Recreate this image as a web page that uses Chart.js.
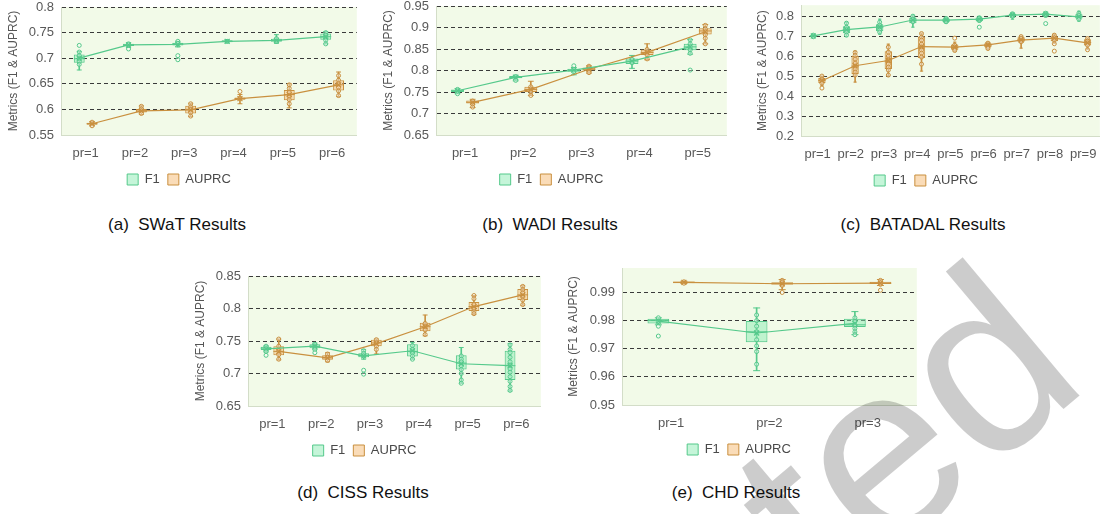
<!DOCTYPE html>
<html>
<head>
<meta charset="utf-8">
<script src="https://cdn.jsdelivr.net/npm/chart.js@4.4.0/dist/chart.umd.min.js"></script>
<style>
body { margin: 0; background: #fff; width: 1105px; height: 514px; overflow: hidden; position: relative; font-family: 'Liberation Sans', Arial, sans-serif; }
.box { position: absolute; }
.cap { position: absolute; font-size: 17px; line-height: 22px; color: #111; transform: translateX(-50%); white-space: nowrap; }
#mark { position: absolute; left: 0; top: 0; pointer-events: none; }
</style>
</head>
<body>
<div class="box" style="left:0;top:0;width:362px;height:196px"><canvas id="chartSwat"></canvas></div>
<div class="box" style="left:375px;top:0;width:357px;height:196px"><canvas id="chartWadi"></canvas></div>
<div class="box" style="left:749px;top:0;width:356px;height:197px"><canvas id="chartBatadal"></canvas></div>
<div class="box" style="left:187px;top:266px;width:359px;height:201px"><canvas id="chartCiss"></canvas></div>
<div class="box" style="left:560px;top:262px;width:362px;height:204px"><canvas id="chartChd"></canvas></div>

<div class="cap" style="left:177px;top:214px">(a)&nbsp; SWaT Results</div>
<div class="cap" style="left:550px;top:214px">(b)&nbsp; WADI Results</div>
<div class="cap" style="left:923px;top:214px">(c)&nbsp; BATADAL Results</div>
<div class="cap" style="left:363px;top:482px">(d)&nbsp; CISS Results</div>
<div class="cap" style="left:736px;top:482px">(e)&nbsp; CHD Results</div>

<svg id="mark" width="1105" height="514">
  <text x="1092" y="385" transform="rotate(-40 1092 385)" text-anchor="end" font-family="Liberation Sans, Arial, sans-serif" font-size="250" fill="rgba(0,0,0,0.2)">ted</text>
</svg>

<script>
// box = [low whisker, q1, median, q3, high whisker]
var swatLabels = ['pr=1', 'pr=2', 'pr=3', 'pr=4', 'pr=5', 'pr=6'];
var swatTicks = [0.55, 0.6, 0.65, 0.7, 0.75, 0.8];
var swatF1Box = [[0.677, 0.691, 0.699, 0.707, 0.713], [0.721, 0.724, 0.726, 0.728, 0.730], [0.722, 0.725, 0.728, 0.730, 0.733],
    [0.730, 0.731, 0.733, 0.735, 0.736], [0.729, 0.732, 0.735, 0.738, 0.746], [0.728, 0.736, 0.742, 0.748, 0.752]];
var swatF1Mean = [0.700, 0.726, 0.727, 0.733, 0.735, 0.742];
var swatF1Pts = [[0.725, 0.712, 0.705, 0.699, 0.693, 0.688], [0.718, 0.726, 0.728], [0.733, 0.729, 0.705, 0.697],
    [0.733], [0.738, 0.733], [0.750, 0.745, 0.740, 0.735, 0.728]];
var swatAuBox = [[0.568, 0.570, 0.572, 0.574, 0.576], [0.590, 0.594, 0.597, 0.601, 0.607], [0.586, 0.592, 0.600, 0.607, 0.612],
    [0.611, 0.619, 0.621, 0.623, 0.629], [0.603, 0.618, 0.629, 0.638, 0.650], [0.625, 0.637, 0.648, 0.657, 0.673]];
var swatAuMean = [0.572, 0.597, 0.599, 0.621, 0.629, 0.648];
var swatAuPts = [[0.568, 0.575], [0.606, 0.601, 0.597, 0.592], [0.611, 0.605, 0.600, 0.594, 0.587], [0.635, 0.622],
    [0.648, 0.641, 0.633, 0.626, 0.619, 0.611], [0.666, 0.657, 0.650, 0.643, 0.636, 0.627]];

var wadiLabels = ['pr=1', 'pr=2', 'pr=3', 'pr=4', 'pr=5'];
var wadiTicks = [0.65, 0.7, 0.75, 0.8, 0.85, 0.9, 0.95];
var wadiF1Box = [[0.746, 0.750, 0.753, 0.756, 0.758], [0.776, 0.782, 0.784, 0.787, 0.789], [0.790, 0.797, 0.801, 0.804, 0.807],
    [0.805, 0.815, 0.822, 0.828, 0.835], [0.838, 0.847, 0.855, 0.862, 0.872]];
var wadiF1Mean = [0.753, 0.784, 0.801, 0.822, 0.855];
var wadiF1Pts = [[0.746, 0.752, 0.756], [0.777, 0.786], [0.811, 0.803, 0.797], [0.826, 0.818],
    [0.871, 0.862, 0.855, 0.848, 0.840, 0.801]];
var wadiAuBox = [[0.714, 0.723, 0.726, 0.730, 0.733], [0.742, 0.750, 0.756, 0.762, 0.775], [0.794, 0.800, 0.803, 0.807, 0.811],
    [0.825, 0.836, 0.842, 0.849, 0.862], [0.862, 0.884, 0.892, 0.898, 0.907]];
var wadiAuMean = [0.726, 0.756, 0.803, 0.842, 0.890];
var wadiAuPts = [[0.729, 0.722, 0.715], [0.762, 0.757, 0.750, 0.742], [0.810, 0.806, 0.799, 0.795],
    [0.849, 0.843, 0.836, 0.827], [0.905, 0.897, 0.890, 0.883, 0.875, 0.862]];

var batadalLabels = ['pr=1', 'pr=2', 'pr=3', 'pr=4', 'pr=5', 'pr=6', 'pr=7', 'pr=8', 'pr=9'];
var batadalTicks = [0.2, 0.3, 0.4, 0.5, 0.6, 0.7, 0.8];
var batadalF1Box = [[0.695, 0.697, 0.701, 0.705, 0.707], [0.698, 0.715, 0.730, 0.750, 0.770], [0.710, 0.725, 0.745, 0.760, 0.785],
    [0.745, 0.765, 0.780, 0.792, 0.805], [0.765, 0.771, 0.780, 0.789, 0.795], [0.770, 0.776, 0.785, 0.794, 0.800],
    [0.785, 0.799, 0.806, 0.812, 0.818], [0.795, 0.801, 0.810, 0.815, 0.820], [0.775, 0.788, 0.797, 0.810, 0.825]];
var batadalF1Mean = [0.701, 0.733, 0.746, 0.781, 0.780, 0.785, 0.805, 0.810, 0.797];
var batadalF1Pts = [[0.701, 0.705, 0.697], [0.765, 0.745, 0.733, 0.720, 0.705], [0.770, 0.755, 0.745, 0.730, 0.720],
    [0.800, 0.785, 0.772], [0.788, 0.780, 0.772], [0.790, 0.780, 0.745], [0.812, 0.805, 0.800],
    [0.815, 0.808, 0.763], [0.815, 0.805, 0.795, 0.785]];
var batadalAuBox = [[0.452, 0.465, 0.478, 0.490, 0.500], [0.470, 0.510, 0.550, 0.600, 0.625], [0.500, 0.535, 0.575, 0.625, 0.660],
    [0.525, 0.590, 0.650, 0.698, 0.715], [0.625, 0.632, 0.643, 0.658, 0.670], [0.635, 0.645, 0.655, 0.665, 0.670],
    [0.640, 0.672, 0.682, 0.695, 0.700], [0.665, 0.675, 0.690, 0.700, 0.710], [0.635, 0.653, 0.668, 0.685, 0.690]];
var batadalAuMean = [0.477, 0.552, 0.578, 0.648, 0.645, 0.656, 0.680, 0.690, 0.666];
var batadalAuPts = [[0.500, 0.485, 0.475, 0.465, 0.440], [0.618, 0.603, 0.585, 0.565, 0.550, 0.535, 0.520, 0.505],
    [0.645, 0.620, 0.600, 0.580, 0.560, 0.545, 0.530, 0.505], [0.713, 0.695, 0.680, 0.660, 0.645, 0.630, 0.615, 0.595, 0.560],
    [0.690, 0.655, 0.645, 0.635, 0.628], [0.665, 0.655, 0.645, 0.638], [0.698, 0.688, 0.678, 0.672],
    [0.705, 0.692, 0.680, 0.662, 0.625], [0.688, 0.675, 0.665, 0.655, 0.632]];

var cissLabels = ['pr=1', 'pr=2', 'pr=3', 'pr=4', 'pr=5', 'pr=6'];
var cissTicks = [0.65, 0.7, 0.75, 0.8, 0.85];
var cissF1Box = [[0.733, 0.736, 0.739, 0.741, 0.743], [0.737, 0.739, 0.742, 0.745, 0.747], [0.722, 0.725, 0.728, 0.731, 0.737],
    [0.722, 0.726, 0.734, 0.745, 0.748], [0.685, 0.706, 0.716, 0.728, 0.740], [0.673, 0.690, 0.712, 0.735, 0.746]];
var cissF1Mean = [0.738, 0.742, 0.727, 0.735, 0.715, 0.712];
var cissF1Pts = [[0.742, 0.738, 0.734, 0.728], [0.745, 0.741, 0.737, 0.732], [0.735, 0.731, 0.727, 0.705, 0.699],
    [0.743, 0.737, 0.732, 0.727, 0.722], [0.727, 0.722, 0.718, 0.712, 0.706, 0.700, 0.690, 0.685],
    [0.744, 0.737, 0.732, 0.725, 0.718, 0.713, 0.707, 0.702, 0.695, 0.688, 0.680, 0.674]];
var cissAuBox = [[0.721, 0.728, 0.734, 0.742, 0.753], [0.718, 0.721, 0.724, 0.728, 0.732], [0.730, 0.742, 0.747, 0.752, 0.753],
    [0.758, 0.765, 0.772, 0.778, 0.790], [0.791, 0.796, 0.803, 0.810, 0.820], [0.805, 0.813, 0.821, 0.830, 0.835]];
var cissAuMean = [0.734, 0.724, 0.746, 0.772, 0.803, 0.821];
var cissAuPts = [[0.753, 0.742, 0.735, 0.729, 0.722], [0.730, 0.725, 0.720], [0.752, 0.747, 0.742, 0.737],
    [0.777, 0.772, 0.767, 0.760], [0.820, 0.815, 0.806, 0.800, 0.795, 0.792], [0.834, 0.829, 0.824, 0.819, 0.813, 0.806]];

var chdLabels = ['pr=1', 'pr=2', 'pr=3'];
var chdTicks = [0.95, 0.96, 0.97, 0.98, 0.99];
var chdF1Box = [[0.9785, 0.9790, 0.9800, 0.9807, 0.9810], [0.9622, 0.9723, 0.9760, 0.9799, 0.9845], [0.9750, 0.9777, 0.9785, 0.9807, 0.9832]];
var chdF1Mean = [0.9798, 0.9756, 0.9790];
var chdF1Pts = [[0.9810, 0.9797, 0.9780, 0.9745], [0.9820, 0.9800, 0.9780, 0.9760, 0.9732, 0.9710, 0.9690, 0.9645],
    [0.9810, 0.9797, 0.9785, 0.9772, 0.9760, 0.9750]];
var chdAuBox = [[0.9932, 0.9933, 0.9936, 0.9939, 0.9940], [0.9910, 0.9928, 0.9931, 0.9936, 0.9946], [0.9925, 0.9930, 0.9933, 0.9938, 0.9946]];
var chdAuMean = [0.9936, 0.9931, 0.9933];
var chdAuPts = [[0.9938, 0.9933], [0.9943, 0.9937, 0.9930, 0.9925, 0.9900], [0.9943, 0.9935, 0.9929, 0.9908]];

var GREEN = '#55c98b';
var GREEN_FILL = 'rgba(140,235,180,0.5)';
var ORANGE = '#c9903f';
var ORANGE_FILL = 'rgba(245,192,125,0.55)';
var SHIFT = 0.13;
var FONT = "'Liberation Sans', Arial, sans-serif";

// light green plot background
var plotBg = {
    id: 'plotBg',
    beforeDraw: function (chart) {
        var a = chart.chartArea;
        var ctx = chart.ctx;
        ctx.save();
        ctx.fillStyle = '#f2fae8';
        ctx.fillRect(a.left, a.top, a.right - a.left, a.bottom - a.top);
        ctx.restore();
    }
};

function seriesDatasets(name, color, fill, boxes, means, pts, shift, nCat) {
    var catPx = function (ctx) {
        var x = ctx.chart.scales.x;
        return x ? x.width / nCat : 40;
    };
    var meanPts = [], medPts = [], capPts = [], dots = [], boxData = [], whisk = [];
    boxes.forEach(function (b, i) {
        var x = i + shift;
        boxData.push({ x: x, y: [b[1], b[3]] });
        whisk.push({ x: x, y: [b[0], b[4]] });
        medPts.push({ x: x, y: b[2] });
        capPts.push({ x: x, y: b[0] });
        capPts.push({ x: x, y: b[4] });
        meanPts.push({ x: x, y: means[i] });
    });
    pts.forEach(function (list, i) {
        list.forEach(function (v) {
            dots.push({ x: i + shift, y: v });
        });
    });

    return [
        { type: 'line', label: '', data: meanPts, borderColor: color, borderWidth: 1.2, pointRadius: 0, order: 0 },
        { type: 'scatter', label: '', data: meanPts, pointStyle: 'crossRot', pointRadius: 3.5,
            pointBorderColor: color, pointBorderWidth: 1.2, order: 1 },
        { type: 'scatter', label: '', data: dots, pointStyle: 'circle', pointRadius: 2,
            pointBackgroundColor: 'rgba(255,255,255,0.35)', pointBorderColor: color, pointBorderWidth: 1, order: 2 },
        { type: 'scatter', label: '', data: medPts, pointStyle: 'line',
            pointRadius: function (ctx) { return catPx(ctx) * 0.11; },
            pointBorderColor: color, pointBorderWidth: 1, order: 3 },
        { type: 'scatter', label: '', data: capPts, pointStyle: 'line',
            pointRadius: function (ctx) { return Math.min(3.5, catPx(ctx) * 0.05); },
            pointBorderColor: color, pointBorderWidth: 1, order: 3 },
        { type: 'bar', label: name, data: boxData, backgroundColor: fill, borderColor: color, borderWidth: 1,
            borderSkipped: false, grouped: false, categoryPercentage: 1, barPercentage: 0.85, order: 4 },
        { type: 'bar', label: '', data: whisk, backgroundColor: color, borderWidth: 0,
            barThickness: 1, grouped: false, order: 5 }
    ];
}

function makeChart(id, labels, ticks, yMax, yWidth, padTop, padRight, f1Box, f1Mean, f1Pts, auBox, auMean, auPts) {
    var n = labels.length;
    var yMin = ticks[0];
    var datasets = seriesDatasets('F1', GREEN, GREEN_FILL, f1Box, f1Mean, f1Pts, -SHIFT, n)
        .concat(seriesDatasets('AUPRC', ORANGE, ORANGE_FILL, auBox, auMean, auPts, SHIFT, n));

    new Chart(document.getElementById(id), {
        type: 'bar',
        data: { datasets: datasets },
        plugins: [plotBg],
        options: {
            responsive: true,
            maintainAspectRatio: false,
            animation: false,
            events: [],
            layout: { padding: { top: padTop, right: padRight, left: 0, bottom: 0 } },
            plugins: {
                tooltip: { enabled: false },
                legend: {
                    position: 'bottom',
                    labels: {
                        font: { family: FONT, size: 13 },
                        color: '#4a4a4a',
                        boxWidth: 11,
                        boxHeight: 11,
                        padding: 8,
                        filter: function (item) { return item.text !== ''; }
                    }
                }
            },
            scales: {
                x: {
                    type: 'linear',
                    min: -0.5,
                    max: n - 0.5,
                    offset: false,
                    grid: { display: false, drawTicks: false, offset: false },
                    border: { color: '#d3ddc8', width: 1 },
                    afterBuildTicks: function (scale) {
                        scale.ticks = labels.map(function (l, i) { return { value: i }; });
                    },
                    afterFit: function (scale) {
                        scale.height = 30;
                        scale.paddingLeft = 0;
                        scale.paddingRight = 0;
                    },
                    ticks: {
                        autoSkip: false,
                        maxRotation: 0,
                        padding: 11,
                        color: '#595959',
                        font: { family: FONT, size: 13 },
                        callback: function (v) { return labels[Math.round(v)]; }
                    }
                },
                y: {
                    type: 'linear',
                    min: yMin,
                    max: yMax,
                    grid: {
                        drawTicks: false,
                        color: function (c) {
                            return c.tick && Math.abs(c.tick.value - yMin) < 1e-9 ? 'rgba(0,0,0,0)' : '#3a3a3a';
                        },
                        lineWidth: 1
                    },
                    border: { color: '#d3ddc8', width: 1, dash: [4, 3] },
                    afterBuildTicks: function (scale) {
                        scale.ticks = ticks.map(function (v) { return { value: v }; });
                    },
                    afterFit: function (scale) {
                        scale.width = yWidth;
                        scale.paddingTop = 0;
                        scale.paddingBottom = 0;
                    },
                    ticks: {
                        padding: 7,
                        color: '#595959',
                        font: { family: FONT, size: 13 },
                        callback: function (v) { return String(+v.toFixed(3)); }
                    },
                    title: {
                        display: true,
                        text: 'Metrics (F1 & AUPRC)',
                        color: '#555',
                        font: { family: FONT, size: 12 },
                        padding: { top: 6, bottom: 0 }
                    }
                }
            }
        }
    });
}

makeChart('chartSwat', swatLabels, swatTicks, 0.8, 61, 7, 4,
    swatF1Box, swatF1Mean, swatF1Pts, swatAuBox, swatAuMean, swatAuPts);
makeChart('chartWadi', wadiLabels, wadiTicks, 0.95, 61, 6, 4,
    wadiF1Box, wadiF1Mean, wadiF1Pts, wadiAuBox, wadiAuMean, wadiAuPts);
makeChart('chartBatadal', batadalLabels, batadalTicks, 0.855, 52, 0, 2,
    batadalF1Box, batadalF1Mean, batadalF1Pts, batadalAuBox, batadalAuMean, batadalAuPts);
makeChart('chartCiss', cissLabels, cissTicks, 0.85, 61, 10, 4,
    cissF1Box, cissF1Mean, cissF1Pts, cissAuBox, cissAuMean, cissAuPts);
makeChart('chartChd', chdLabels, chdTicks, 0.9987, 62, 6, 4,
    chdF1Box, chdF1Mean, chdF1Pts, chdAuBox, chdAuMean, chdAuPts);
</script>
</body>
</html>
